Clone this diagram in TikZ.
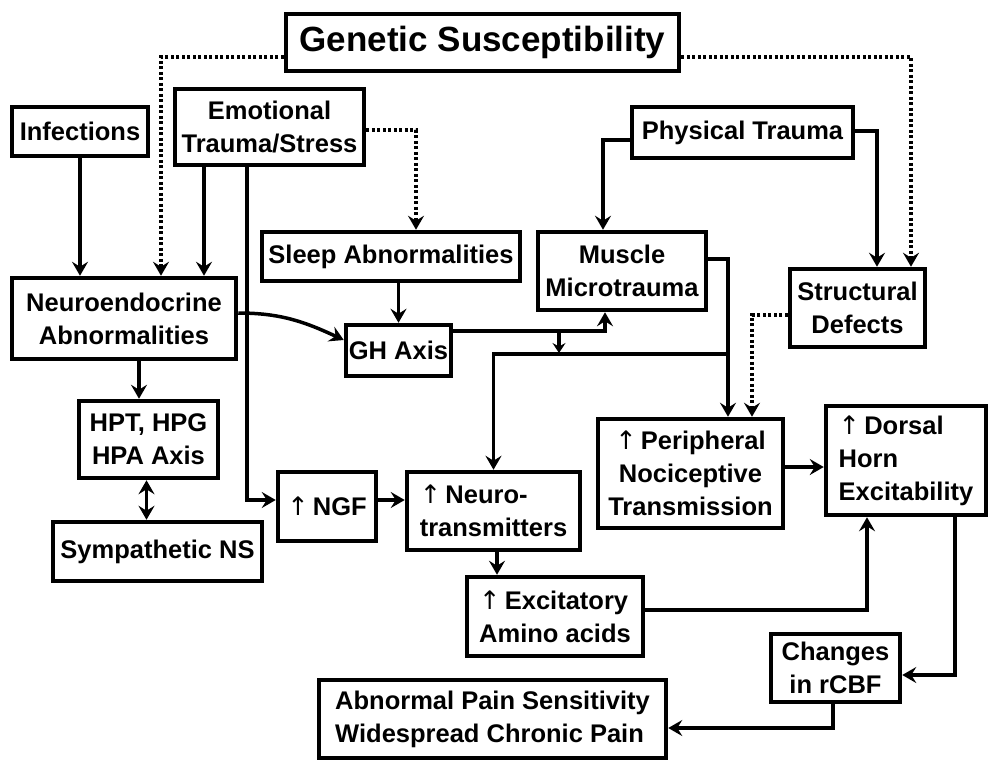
\documentclass[tikz,border=0pt]{standalone}
\usepackage{fontspec}
\setmainfont{Liberation Sans}
\newfontfamily\arrowfont{DejaVu Sans}
\usetikzlibrary{arrows.meta}
% thin "increase" arrow set before a label
\newcommand{\incr}{{\arrowfont\mdseries ↑}\,}
\begin{document}
\begin{tikzpicture}[x=1pt,y=-1pt,
  box/.style={draw,line width=4.5pt,inner sep=0pt,
    font=\bfseries\fontsize{25.5}{33}\selectfont,align=center},
  lbox/.style={box,align=left},
  tip/.style={Stealth[length=14pt,width=16pt,inset=5pt]},
  link/.style={line width=3.5pt,-{Stealth[length=14pt,width=16pt,inset=5pt]}},
  dots/.style={link,dash pattern=on 3pt off 2.5pt},
  both/.style={line width=3.5pt,{Stealth[length=14pt,width=16pt,inset=5pt]}-{Stealth[length=14pt,width=16pt,inset=5pt]}},
]
\useasboundingbox (0,0) rectangle (992,764);

% ---------- boxes ----------
\node[box,minimum width=393pt,minimum height=57pt,
  font=\bfseries\fontsize{35}{40}\selectfont] (gen) at (482.5,42.5) {Genetic Susceptibility};
\node[box,minimum width=136pt,minimum height=49pt] (inf) at (80,131.5) {Infections};
\node[box,minimum width=189pt,minimum height=76pt] (emo) at (269.5,127) {Emotional\\Trauma/Stress};
\node[box,minimum width=221pt,minimum height=51pt] (phys) at (742.5,132.5) {Physical Trauma};
\node[box,minimum width=258pt,minimum height=49pt] (sleep) at (391,256.5) {Sleep Abnormalities};
\node[box,minimum width=168pt,minimum height=78pt] (musc) at (622,271) {Muscle\\Microtrauma};
\node[box,minimum width=135pt,minimum height=78pt] (struct) at (857.5,308) {Structural\\Defects};
\node[box,minimum width=224pt,minimum height=81pt] (neuro) at (124,318.5) {Neuroendocrine\\Abnormalities};
\node[box,minimum width=105pt,minimum height=51pt] (gh) at (398.5,350.5) {GH Axis};
\node[box,minimum width=139pt,minimum height=77pt] (hpt) at (148.5,439.5) {HPT, HPG\\HPA Axis};
\node[box,minimum width=209pt,minimum height=59pt] (symp) at (157.5,551.5) {Sympathetic NS};
\node[box,minimum width=98pt,minimum height=69pt] (ngf) at (327,506.5) {\incr NGF};
\node[lbox,minimum width=173pt,minimum height=78pt] (ntr) at (493.5,511) {\incr Neuro-\\transmitters};
\node[lbox,minimum width=176pt,minimum height=79pt] (exc) at (555,616.5) {\incr Excitatory\\Amino acids};
\node[lbox,minimum width=347pt,minimum height=78pt] (pain) at (492.5,719) {Abnormal Pain Sensitivity\\Widespread Chronic Pain};
\node[box,minimum width=185pt,minimum height=109pt] (peri) at (690.5,473.5) {\incr Peripheral\\Nociceptive\\Transmission};
\node[lbox,minimum width=160pt,minimum height=109pt] (dors) at (906,460.5) {\incr Dorsal\\Horn\\Excitability};
\node[box,minimum width=129pt,minimum height=68pt] (chg) at (835.5,668) {Changes\\in rCBF};

% ---------- junction points ----------
\coordinate (br) at (728,354);
\coordinate (ghj) at (559,331);
\coordinate (brj) at (559,353);

% ---------- dotted influences ----------
\draw[dots] ([yshift=-14.5pt]gen.west) -| ([xshift=37pt]neuro.north);
\draw[dots] ([yshift=-14.5pt]gen.east) -| ([xshift=53.5pt]struct.north);
\draw[dots] ([yshift=-3pt]emo.east) -| ([xshift=25pt]sleep.north);
\draw[dots] ([yshift=-7pt]struct.west) -| ([xshift=61.5pt]peri.north);

% ---------- solid connectors ----------
\draw[link] (inf.south) -- (inf.south |- neuro.north);
\draw[link] ([xshift=-65.5pt]emo.south) -- ([xshift=-65.5pt]emo.south |- neuro.north);
\draw[link] ([xshift=-22.5pt]emo.south) |- ([yshift=6.5pt]ngf.west);
\draw[link] ([yshift=5.5pt]neuro.east) to[out=0,in=155] ([yshift=10.5pt]gh.west);
\draw[link] (gh.north |- sleep.south) -- (gh.north);
\draw[link] ([yshift=-7.5pt]phys.west) -| ([xshift=-19pt]musc.north);
\draw[link] ([yshift=1.5pt]phys.east) -| ([xshift=19.5pt]struct.north);
\draw[link] ([yshift=19.5pt]gh.east) -| ([xshift=-17pt]musc.south);
\draw[line width=3.5pt,-{Stealth[length=10pt,width=13pt,inset=3.5pt]}] (ghj) -- (brj);
\draw[link] ([yshift=12pt]musc.east) -| ([xshift=37.5pt]peri.north);
\draw[link] (br) -| (ntr.north);
\draw[link] ([xshift=15pt]neuro.south) -- ([xshift=15pt]neuro.south |- hpt.north);
\draw[both] ([xshift=-2pt]hpt.south) -- ([xshift=-2pt]hpt.south |- symp.north);
\draw[link] ([yshift=6.5pt]ngf.east) -- ([yshift=6.5pt]ngf.east -| ntr.west);
\draw[link] ([xshift=3.5pt]ntr.south) -- ([xshift=3.5pt]ntr.south |- exc.north);
\draw[link] ([yshift=6.5pt]peri.east) -- ([yshift=6.5pt]peri.east -| dors.west);
\draw[link] ([yshift=6.5pt]exc.east) -| ([xshift=-39pt]dors.south);
\draw[link] ([xshift=49pt]dors.south) |- ([yshift=-7pt]chg.east);
\draw[link] ([xshift=-2.5pt]chg.south) |- ([yshift=-9pt]pain.east);
\end{tikzpicture}
\end{document}
